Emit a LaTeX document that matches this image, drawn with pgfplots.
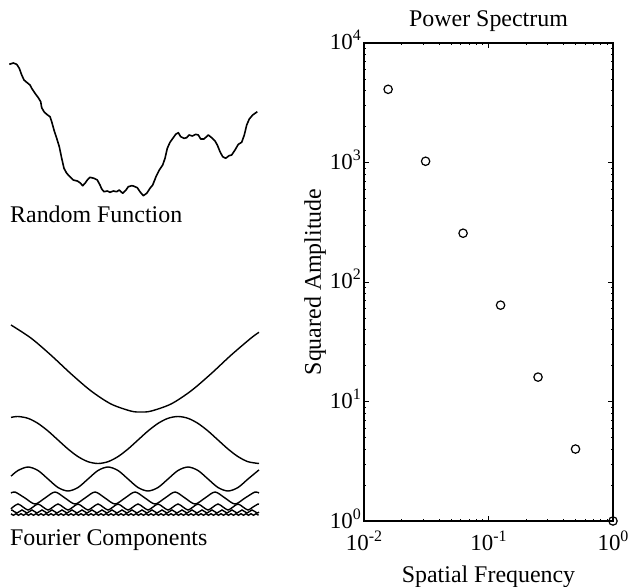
\documentclass[border=0pt]{standalone}
\usepackage{pgfplots}
\pgfplotsset{compat=1.18}
\usepackage{fontspec}
\setmainfont{Liberation Serif}
\newcommand{\tl}[1]{10\raisebox{9bp}{\fontsize{16}{16}\selectfont #1}}
\begin{document}
\begin{tikzpicture}
\useasboundingbox (0,0) rectangle (633bp,587bp);
% ---------------- left panel (pixel coordinates) ----------------
\begin{axis}[at={(0,0)}, anchor=south west, scale only axis,
  width=633bp, height=587bp, xmin=0, xmax=633, ymin=0, ymax=587,
  y dir=reverse, hide axis, clip=false]
% random function
\addplot[black, line width=1.6bp, line join=round] coordinates {
(9.3,64.3) (13.3,63) (16.7,64.3) (19.3,68.3) (21.7,75) (24,80) (26.7,82.3) (30,85) (31.7,88.3) (35,93.3) (38.3,97.7) (40.7,101.7) (41.7,107.7) (44,111.7) (46.7,114.3) (50,116.7) (51.7,121.7) (54,130) (56.7,138.3) (59.3,146.7) (61.7,158.3) (64,168.3) (66.7,173.3) (70,176.7) (73.3,180) (77.3,181) (80,182.7) (82.7,185.7) (85,183.3) (87.3,180) (90,177.3) (94,178.3) (97.3,180) (100,185) (101.7,189) (104,191.7) (107.3,191) (110,192.3) (113.3,191) (116.7,191.7) (119.3,190) (122.7,193.3) (126,190) (128.3,186.7) (131.7,185.7) (133.3,186) (137.3,187.7) (140,191.7) (143.3,195.7) (146.7,193.3) (150,188.3) (152.7,185) (156,176.7) (159.3,170) (162.7,165) (165,158.3) (167.3,148.3) (170,142.3) (173.3,137.7) (175.7,134.3) (178.3,132.7) (180.7,136.7) (184,138.3) (186.7,137.7) (189,135) (192.3,136) (195.7,134.3) (198.3,135) (200.7,139) (204,139) (208.3,135) (211.7,137.7) (215,141) (217.3,145) (220,151.7) (222.7,156.7) (225.7,158.3) (229,155.7) (231.7,155) (235,150) (238.3,144.3) (241.7,142.3) (244.3,135) (246.7,125) (249.3,119) (252.7,115) (257.3,111.7)};
% Fourier components
\addplot[black, line width=1.4bp, smooth] coordinates {
(11,325.0) (31,338.1) (51,355.2) (71,373.8) (91,390.9) (111,404.0) (131,411.1) (141,412) (151,411.1) (171,404.0) (191,390.9) (211,373.8) (231,355.2) (251,338.1) (259,332.3)};
\addplot[black, line width=1.4bp, smooth] coordinates {
(11,417.4) (18,416.5) (28,418.3) (38,423.4) (48,431.0) (58,440) (68,449.0) (78,456.6) (88,461.7) (98,463.5) (108,461.7) (118,456.6) (128,449.0) (138,440) (148,431.0) (158,423.4) (168,418.3) (178,416.5) (188,418.3) (198,423.4) (208,431.0) (218,440) (228,449.0) (238,456.6) (248,461.7) (259,463.5)};
\addplot[black, line width=1.4bp, smooth] coordinates {
(11,476.2) (18,470.5) (28,467) (38,470.5) (48,479) (58,487.5) (68,491) (78,487.5) (88,479) (98,470.5) (108,467) (118,470.5) (128,479) (138,487.5) (148,491) (158,487.5) (168,479) (178,470.5) (188,467) (198,470.5) (208,479) (218,487.5) (228,491) (238,487.5) (248,479) (259,469.9)};
\addplot[black, line width=1.4bp, smooth] coordinates {
(11,493.1) (15,492) (25,498) (35,504) (45,498) (55,492) (65,498) (75,504) (85,498) (95,492) (105,498) (115,504) (125,498) (135,492) (145,498) (155,504) (165,498) (175,492) (185,498) (195,504) (205,498) (215,492) (225,498) (235,504) (245,498) (255,492) (259,493.1)};
\addplot[black, line width=1.4bp, smooth] coordinates {
(11,508.8) (13,507) (18,504) (23,507) (28,510) (33,507) (38,504) (43,507) (48,510) (53,507) (58,504) (63,507) (68,510) (73,507) (78,504) (83,507) (88,510) (93,507) (98,504) (103,507) (108,510) (113,507) (118,504) (123,507) (128,510) (133,507) (138,504) (143,507) (148,510) (153,507) (158,504) (163,507) (168,510) (173,507) (178,504) (183,507) (188,510) (193,507) (198,504) (203,507) (208,510) (213,507) (218,504) (223,507) (228,510) (233,507) (238,504) (243,507) (248,510) (253,507) (258,504) (259,504.1)};
\addplot[black, line width=1.4bp, smooth] coordinates {
(11,510.3) (12,510) (17,513) (22,510) (27,513) (32,510) (37,513) (42,510) (47,513) (52,510) (57,513) (62,510) (67,513) (72,510) (77,513) (82,510) (87,513) (92,510) (97,513) (102,510) (107,513) (112,510) (117,513) (122,510) (127,513) (132,510) (137,513) (142,510) (147,513) (152,510) (157,513) (162,510) (167,513) (172,510) (177,513) (182,510) (187,513) (192,510) (197,513) (202,510) (207,513) (212,510) (217,513) (222,510) (227,513) (232,510) (237,513) (242,510) (247,513) (252,510) (257,513) (259,512)};
\addplot[black, line width=1.4bp, smooth] coordinates {
(11,513.75) (13.5,515.25) (16,513.75) (18.5,515.25) (21,513.75) (23.5,515.25) (26,513.75) (28.5,515.25) (31,513.75) (33.5,515.25) (36,513.75) (38.5,515.25) (41,513.75) (43.5,515.25) (46,513.75) (48.5,515.25) (51,513.75) (53.5,515.25) (56,513.75) (58.5,515.25) (61,513.75) (63.5,515.25) (66,513.75) (68.5,515.25) (71,513.75) (73.5,515.25) (76,513.75) (78.5,515.25) (81,513.75) (83.5,515.25) (86,513.75) (88.5,515.25) (91,513.75) (93.5,515.25) (96,513.75) (98.5,515.25) (101,513.75) (103.5,515.25) (106,513.75) (108.5,515.25) (111,513.75) (113.5,515.25) (116,513.75) (118.5,515.25) (121,513.75) (123.5,515.25) (126,513.75) (128.5,515.25) (131,513.75) (133.5,515.25) (136,513.75) (138.5,515.25) (141,513.75) (143.5,515.25) (146,513.75) (148.5,515.25) (151,513.75) (153.5,515.25) (156,513.75) (158.5,515.25) (161,513.75) (163.5,515.25) (166,513.75) (168.5,515.25) (171,513.75) (173.5,515.25) (176,513.75) (178.5,515.25) (181,513.75) (183.5,515.25) (186,513.75) (188.5,515.25) (191,513.75) (193.5,515.25) (196,513.75) (198.5,515.25) (201,513.75) (203.5,515.25) (206,513.75) (208.5,515.25) (211,513.75) (213.5,515.25) (216,513.75) (218.5,515.25) (221,513.75) (223.5,515.25) (226,513.75) (228.5,515.25) (231,513.75) (233.5,515.25) (236,513.75) (238.5,515.25) (241,513.75) (243.5,515.25) (246,513.75) (248.5,515.25) (251,513.75) (253.5,515.25) (256,513.75) (258.5,515.25)};
\node[anchor=base west, inner sep=0, font=\fontsize{24}{28}\selectfont] at (axis cs:10,222) {Random Function};
\node[anchor=base west, inner sep=0, font=\fontsize{24}{28}\selectfont] at (axis cs:10,545) {Fourier Components};
\end{axis}
% ---------------- right panel: power spectrum ----------------
\begin{axis}[at={(364bp,66bp)}, anchor=south west, scale only axis,
  width=249bp, height=478bp,
  xmode=log, ymode=log, xmin=0.01, xmax=1, ymin=1, ymax=10000,
  xtick={0.01,0.1,1}, xticklabels={\tl{-2},\tl{-1},\tl{0}},
  ytick={1,10,100,1000,10000}, yticklabels={\tl{0},\tl{1},\tl{2},\tl{3},\tl{4}},
  tick label style={font=\fontsize{23}{26}\selectfont},
  xticklabel style={anchor=base, yshift=-29bp},
  yticklabel style={anchor=base east, yshift=-7bp, inner sep=3bp},
  major tick length=5bp, minor tick length=2.5bp,
  every tick/.style={black, line width=0.9bp},
  axis line style={line width=1.2bp},
  title={Power Spectrum},
  every axis title/.style={at={(0.5,1)}, anchor=base, yshift=16bp, font=\fontsize{24}{28}\selectfont},
  xlabel={Spatial Frequency},
  every axis x label/.style={at={(0.5,0)}, anchor=base, yshift=-61bp, font=\fontsize{24}{28}\selectfont},
  ylabel={Squared Amplitude},
  every axis y label/.style={at={(-0.1727,0.5)}, rotate=90, anchor=base, font=\fontsize{24}{28}\selectfont},
  clip=false]
\addplot[only marks, mark=o, mark size=4.2bp, mark options={black, line width=1.2bp}] coordinates {
(0.015625,4096) (0.03125,1024) (0.0625,256) (0.125,64) (0.25,16) (0.5,4) (1,1)};
\end{axis}
\end{tikzpicture}
\end{document}
